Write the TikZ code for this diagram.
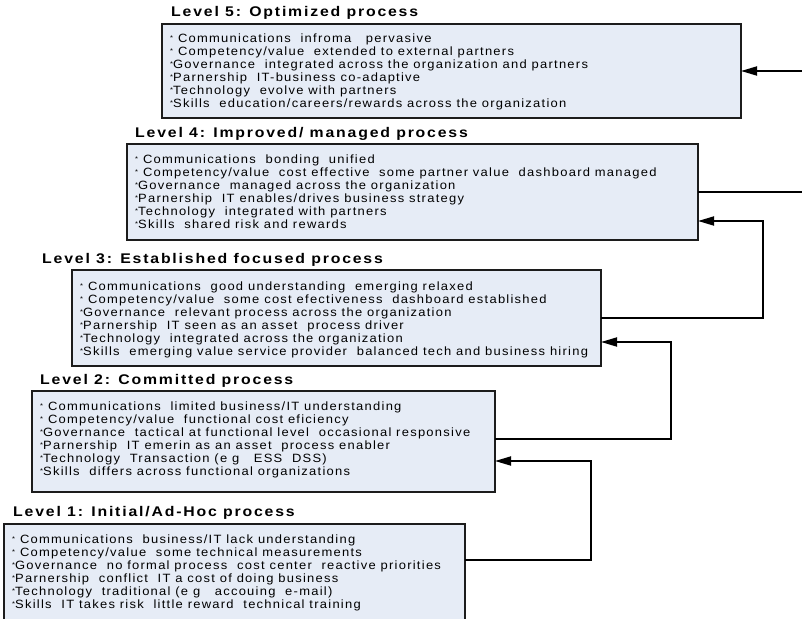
\documentclass[tikz,border=0pt]{standalone}
\usepackage{fontspec}
\setmainfont{Liberation Sans}
\newfontfamily\bodyfont[LetterSpace=10.5,FakeStretch=1.08]{Liberation Sans}
\newfontfamily\headfont[LetterSpace=13,FakeStretch=1.13]{Liberation Sans}
\usetikzlibrary{arrows.meta}
\definecolor{boxfill}{RGB}{230,236,246}
\definecolor{boxline}{RGB}{28,28,28}
% small raised mark that opens each list line
\newcommand\itemmark{\raisebox{1.5pt}{\fontsize{7}{7}\selectfont *}}
\begin{document}
\begin{tikzpicture}[x=1pt,y=-1pt,
  levelbox/.style={draw=boxline, fill=boxfill, line width=1.8pt, inner sep=0pt, outer sep=0pt, anchor=north west},
  leveltext/.style={anchor=north west, inner sep=0pt, align=left,
    font=\bodyfont\fontsize{12}{13}\selectfont},
  leveltitle/.style={anchor=base west, inner sep=0pt,
    font=\headfont\bfseries\fontsize{14}{16}\selectfont},
  link/.style={draw=black, line width=1.8pt},
  arr/.style={link, -{Triangle[length=16pt,width=9pt]}}]
\useasboundingbox (0,0) rectangle (802,618);

% level 5
\node[leveltitle] (h5) at (171,17) {Level 5: Optimized process};
\node[levelbox, minimum width=579pt, minimum height=94pt] (l5) at (162,24) {};
\node[leveltext] (t5) at (170,32.9) {%
\strut\itemmark\ Communications~ infroma~~ pervasive\\
\strut\itemmark\ Competency/value~ extended to external partners\\
\strut\itemmark Governance~ integrated across the organization and partners\\
\strut\itemmark Parnership~ IT-business co-adaptive\\
\strut\itemmark Technology~ evolve with partners\\
\strut\itemmark Skills~ education/careers/rewards across the organization};

% level 4
\node[leveltitle] (h4) at (135,137) {Level 4: Improved/ managed process};
\node[levelbox, minimum width=571pt, minimum height=96pt] (l4) at (127,144) {};
\node[leveltext] (t4) at (135,153.9) {%
\strut\itemmark\ Communications~ bonding~ unified\\
\strut\itemmark\ Competency/value~ cost effective~ some partner value~ dashboard managed\\
\strut\itemmark Governance~ managed across the organization\\
\strut\itemmark Parnership~ IT enables/drives business strategy\\
\strut\itemmark Technology~ integrated with partners\\
\strut\itemmark Skills~ shared risk and rewards};

% level 3
\node[leveltitle] (h3) at (42,263) {Level 3: Established focused process};
\node[levelbox, minimum width=529pt, minimum height=96pt] (l3) at (72,270) {};
\node[leveltext] (t3) at (80,280.9) {%
\strut\itemmark\ Communications~ good understanding~ emerging relaxed\\
\strut\itemmark\ Competency/value~ some cost efectiveness~ dashboard established\\
\strut\itemmark Governance~ relevant process across the organization\\
\strut\itemmark Parnership~ IT seen as an asset~ process driver\\
\strut\itemmark Technology~ integrated across the organization\\
\strut\itemmark Skills~ emerging value service provider~ balanced tech and business hiring};

% level 2
\node[leveltitle] (h2) at (40,384) {Level 2: Committed process};
\node[levelbox, minimum width=463pt, minimum height=101pt] (l2) at (32,391) {};
\node[leveltext] (t2) at (40,400.9) {%
\strut\itemmark\ Communications~ limited business/IT understanding\\
\strut\itemmark\ Competency/value~ functional cost eficiency\\
\strut\itemmark Governance~ tactical at functional level~ occasional responsive\\
\strut\itemmark Parnership~ IT emerin as an asset~ process enabler\\
\strut\itemmark Technology~ Transaction (e g~~ ESS~ DSS)\\
\strut\itemmark Skills~ differs across functional organizations};

% level 1
\node[leveltitle] (h1) at (13,516) {Level 1: Initial/Ad-Hoc process};
\node[levelbox, minimum width=461pt, minimum height=100pt] (l1) at (4,524) {};
\node[leveltext] (t1) at (12,533.9) {%
\strut\itemmark\ Communications~ business/IT lack understanding\\
\strut\itemmark\ Competency/value~ some technical measurements\\
\strut\itemmark Governance~ no formal process~ cost center~ reactive priorities\\
\strut\itemmark Parnership~ conflict~ IT a cost of doing business\\
\strut\itemmark Technology~ traditional (e g~~ accouing~ e-mail)\\
\strut\itemmark Skills~ IT takes risk~ little reward~ technical training};

% connectors between levels
\coordinate (in5) at (802,71);
\coordinate (out4) at (802,192);
\coordinate (k4) at (763,221);
\coordinate (k3) at (671,342);
\coordinate (j3) at (671,439);
\coordinate (k2) at (591,461);
\coordinate (j2) at (591,560);

\draw[arr] (in5) -- (in5 -| l5.east);
\draw[link] (l4.east) -- (l4.east -| out4);
\draw[arr] (l3.east) -| (k4) -- (k4 -| l4.east);
\draw[arr] (j3 -| l2.east) -- (j3) -- (k3) -- (k3 -| l3.east);
\draw[arr] (j2 -| l1.east) -- (j2) -- (k2) -- (k2 -| l2.east);
\end{tikzpicture}
\end{document}
